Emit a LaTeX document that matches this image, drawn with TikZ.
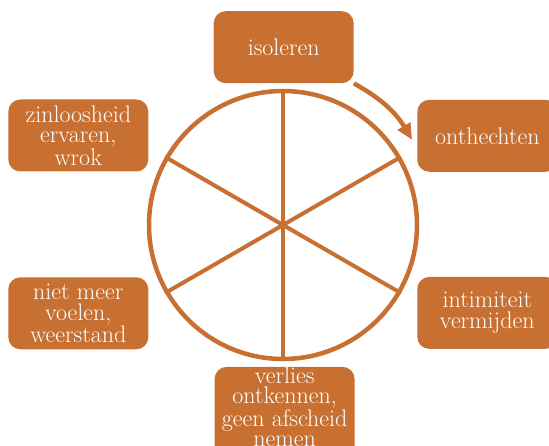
\documentclass[tikz,border=0pt]{standalone}
\usepackage{tikz}
\usetikzlibrary{arrows.meta}
\definecolor{rust}{RGB}{200,112,50}

\begin{document}
\begin{tikzpicture}[x=1pt, y=1pt,
        box/.style={rectangle, rounded corners=12pt, fill=rust, text=white, minimum width=140pt, minimum height=72pt, inner sep=0pt, align=center, font=\fontsize{24}{20.5}\selectfont},
        spoke/.style={draw=rust, line width=4pt},
        cycle/.style={draw=rust, line width=4.5pt, -{Triangle[length=16pt, width=14pt]}}]
            \useasboundingbox (0, 0) rectangle (549, -446);
            \node (wheel) at (283, -225) [circle, draw=rust, line width=4.5pt, minimum size=268pt, inner sep=0pt] {};
            \foreach \a in {30, 90, ..., 330}
                \draw [spoke] (wheel.center) -- (wheel.\a);
            \node (isoleren) at (283.7, -47.2) [box] {isoleren};
            \node (onthechten) at (487.3, -135.8) [box] {onthechten};
            \node (intimiteit) at (487.3, -312.9) [box] {intimiteit\\vermijden};
            \node (verlies) at (284.6, -366.7) [box, anchor=north, text height=80pt, text depth=20pt] {verlies\\ontkennen,\\geen afscheid\\nemen};
            \node (niet) at (78.3, -313.3) [box] {niet meer\\voelen,\\weerstand};
            \node (zinloos) at (78.3, -135.5) [box] {zinloosheid\\ervaren,\\wrok};
            \draw [cycle] (isoleren.south east) to [bend left=15] ([xshift=-5pt, yshift=-4pt]onthechten.west);
        \end{tikzpicture}
\end{document}
